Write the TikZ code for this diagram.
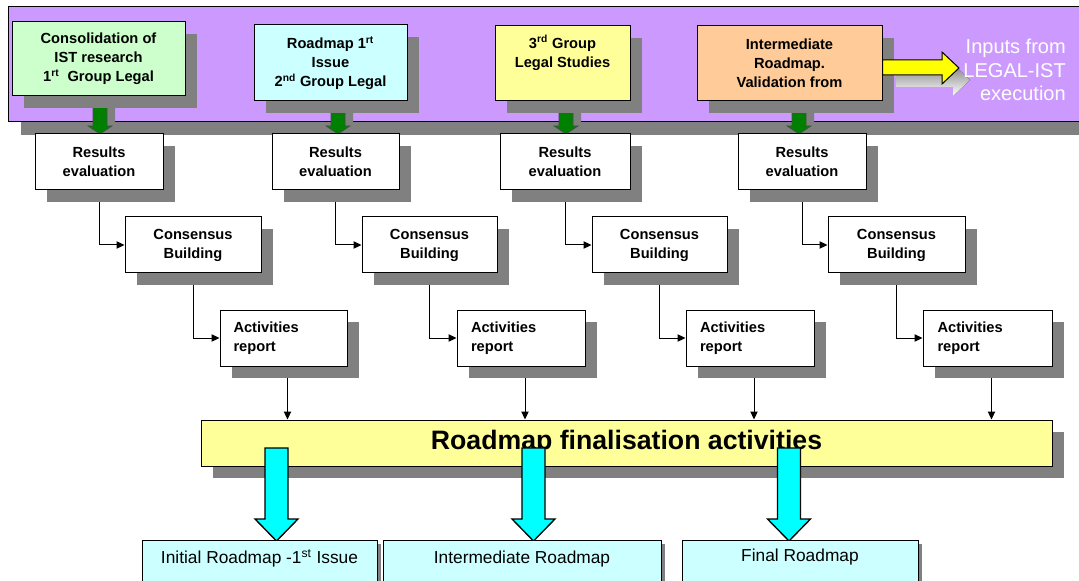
\documentclass[tikz,border=0pt]{standalone}
\usepackage{fontspec}
\setmainfont{Liberation Sans}
\usetikzlibrary{shadows,arrows.meta,calc}
\definecolor{purp}{HTML}{CC99FF}
\definecolor{tgreen}{HTML}{CCFFCC}
\definecolor{tcyan}{HTML}{CCFFFF}
\definecolor{tyellow}{HTML}{FFFF99}
\definecolor{torange}{HTML}{FFCC99}
\definecolor{shade}{HTML}{808080}
\definecolor{darkgreen}{HTML}{008000}
\definecolor{arrowyellow}{HTML}{FFFF00}
\definecolor{arrowcyan}{HTML}{00FFFF}
\pgfdeclarelayer{bg}
\pgfsetlayers{bg,main}
\newcommand{\blockdown}[7]{%
  \draw[#7] ({#1-#5},{#2}) -- ({#1+#5},{#2}) -- ({#1+#5},{#3}) -- ({#1+#6},{#3}) -- ({#1},{#4}) -- ({#1-#6},{#3}) -- ({#1-#5},{#3}) -- cycle;}
% \rbox{style}{name}{x1}{y1}{x2}{y2}{text}
\newcommand{\rbox}[7]{%
  \node[#1, minimum width={(#5-#3)*0.75pt}, minimum height={(#6-#4)*0.75pt}] (#2) at ({(#3+#5)/2},{(#4+#6)/2}) {#7};}
\newcommand{\actx}{\begin{tabular}{@{}p{75pt}@{}}Activities\\report\end{tabular}}
\tikzset{
  boxfont/.style={font=\bfseries\fontsize{11}{14.25}\selectfont},
  sbox/.style={draw=black, line width=0.75pt, inner sep=0pt, align=center, boxfont,
    drop shadow={shadow xshift=9pt, shadow yshift=-9pt, fill=shade, opacity=1}},
  wbox/.style={sbox, fill=white},
  outbox/.style={draw=black, line width=0.75pt, inner sep=0pt, fill=tcyan,
    drop shadow={shadow xshift=3pt, shadow yshift=-3pt, fill=shade, opacity=1}},
  outtext/.style={font=\fontsize{13}{16}\selectfont, inner sep=0pt},
  conn/.style={draw=black, line width=0.75pt, -{Triangle[length=6pt,width=5.5pt]}},
  greenarr/.style={fill=darkgreen, draw=black!70, line width=0.5pt},
  greenshadow/.style={fill=shade, draw=none},
  cyanarr/.style={fill=arrowcyan, draw=black, line width=1pt},
}
\begin{document}
\begin{tikzpicture}[x=0.75pt,y=-0.75pt]
\useasboundingbox (0,0) rectangle (1079,581);
\clip (0,0) rectangle (1079,581);
\begin{pgfonlayer}{bg}
\fill[white] (0,0) rectangle (1079,581);
\end{pgfonlayer}
% band
\rbox{draw=black, line width=0.75pt, fill=purp, inner sep=0pt,
  drop shadow={shadow xshift=9.5pt, shadow yshift=-9.5pt, fill=shade, opacity=1}}{band}{8}{7}{1095}{122}{}
% green arrows
\foreach \cx in {100,338,566,799}{
  \blockdown{\cx+8}{105}{135}{135}{7}{7}{greenshadow}
  \blockdown{\cx}{100}{126}{134}{7}{12}{greenarr}
}
% top boxes
\rbox{sbox, fill=tgreen}{T1}{12}{22}{185}{96}{Consolidation of\\IST research\\1\textsuperscript{rt}\ \ Group Legal}
\rbox{sbox, fill=tcyan}{T2}{254}{25}{407}{101}{Roadmap 1\textsuperscript{rt}\\Issue\\2\textsuperscript{nd} Group Legal}
\rbox{sbox, fill=tyellow}{T3}{495}{26}{630}{101}{3\textsuperscript{rd} Group\\Legal Studies\\\strut}
\rbox{sbox, fill=torange}{T4}{697}{26}{882}{101}{Intermediate\\Roadmap.\\Validation from}
% yellow arrow
\fill[shade] (896,72) -- (953,72) -- (953,64) -- (970,80) -- (953,96) -- (953,87) -- (896,87) -- cycle;
\draw[fill=arrowyellow, draw=black, line width=0.75pt] (T4.east |- 0,60) -- (942,60) -- (942,52) -- (959,68) -- (942,84) -- (942,75) -- (T4.east |- 0,75) -- cycle;
\node[anchor=east, align=right, text=white, inner sep=0pt,
  font=\fontsize{15}{17.6}\selectfont] (inp) at (1066,70) {Inputs from\\LEGAL-IST\\execution};
% results
\rbox{wbox}{R1}{35}{134}{163}{190}{Results\\evaluation}
\rbox{wbox}{R2}{272}{134}{399}{190}{Results\\evaluation}
\rbox{wbox}{R3}{500}{134}{630}{190}{Results\\evaluation}
\rbox{wbox}{R4}{738}{134}{866}{190}{Results\\evaluation}
% consensus
\rbox{wbox}{C1}{125}{217}{261}{273}{Consensus\\Building}
\rbox{wbox}{C2}{362}{217}{497}{273}{Consensus\\Building}
\rbox{wbox}{C3}{592}{217}{727}{273}{Consensus\\Building}
\rbox{wbox}{C4}{828}{217}{965}{273}{Consensus\\Building}
% activities
\rbox{wbox}{A1}{220}{310}{347}{366}{\actx}
\rbox{wbox}{A2}{457}{310}{585}{366}{\actx}
\rbox{wbox}{A3}{686}{310}{814}{366}{\actx}
\rbox{wbox}{A4}{923}{310}{1052}{366}{\actx}
% bar
\rbox{sbox, fill=tyellow, font=\bfseries\fontsize{20}{24}\selectfont}{bar}{201}{420}{1052}{466}{Roadmap finalisation activities}
% connectors
\begin{pgfonlayer}{bg}
\foreach \i in {1,2,3,4}{
  \draw[conn] (R\i.south) |- (C\i.west);
  \draw[conn] (C\i.south) |- (A\i.west);
  \draw[conn] ([xshift=3pt]A\i.south) -- ([xshift=3pt]A\i.south |- bar.north);
}
\end{pgfonlayer}
% cyan arrows
\blockdown{276.5}{448}{519}{541}{11.5}{21.5}{cyanarr}
\blockdown{533.5}{448}{519}{541}{11.5}{21.5}{cyanarr}
\blockdown{789}{448}{519}{541}{11.5}{21.5}{cyanarr}
% outputs
\rbox{outbox}{O1}{142}{540}{377}{600}{}
\rbox{outbox}{O2}{383}{540}{661}{600}{}
\rbox{outbox}{O3}{682}{540}{918}{600}{}
\node[outtext] (O1t) at (259.5,558) {Initial Roadmap -1\textsuperscript{st} Issue};
\node[outtext] (O2t) at (522,559) {Intermediate Roadmap};
\node[outtext] (O3t) at (800,557) {Final Roadmap};
\end{tikzpicture}
\end{document}
